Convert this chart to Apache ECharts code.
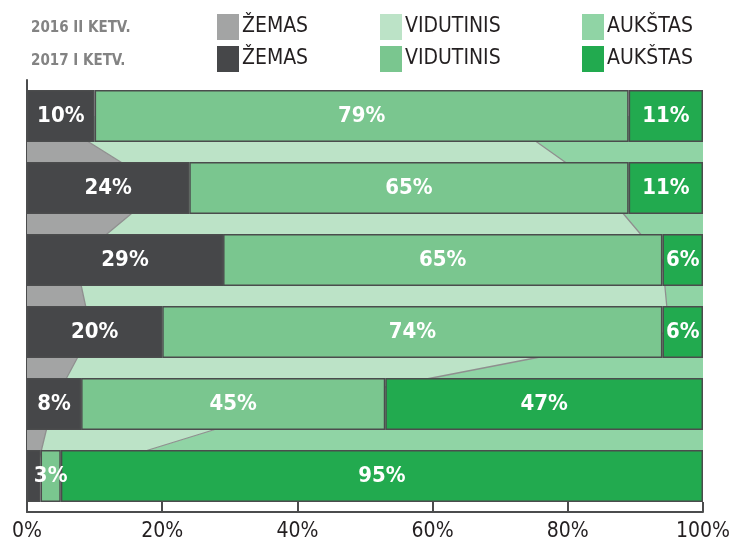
<!DOCTYPE html>
<html>
<head>
<meta charset="utf-8">
<script src="https://cdn.jsdelivr.net/npm/echarts@6/dist/echarts.min.js"></script>
<style>
html,body{margin:0;padding:0;background:#fff;}
#chart{width:734px;height:546px;}
</style>
</head>
<body>
<div id="chart"></div>
<script>
// Categories (rows, top to bottom)
var categories = ['1', '2', '3', '4', '5', '6'];

// 2017 I KETV. (bars)
var zemas2017 = [10, 24, 29, 20, 8, 2];
var vidutinis2017 = [79, 65, 65, 74, 45, 3];
var aukstas2017 = [11, 11, 6, 6, 47, 95];

// 2016 II KETV. (bands between bars)
var zemas2016 = [3, 20, 7.2, 9.5, 3.8, 1.2];
var vidutinis2016 = [67, 65, 86.8, 85.5, 36.2, 4.3];
var aukstas2016 = [30, 15, 6, 5, 60, 94.5];

// Axis ticks
var xTicks = [0, 20, 40, 60, 80, 100];

var FONT = '"Liberation Sans Narrow", "DejaVu Sans Condensed", "Roboto", sans-serif';

var col2017 = ['#464749', '#7ac68f', '#22aa4f'];
var col2016 = ['#a3a4a4', '#bce3c7', '#90d4a5'];
var names = ['ŽEMAS', 'VIDUTINIS', 'AUKŠTAS'];

function barData(arr) {
  return arr.map(function (v) {
    return v < 3 ? { value: v, label: { show: false } } : v;
  });
}

var series = [];
[zemas2016, vidutinis2016, aukstas2016].forEach(function (arr, i) {
  series.push({
    name: '2016 ' + names[i],
    type: 'line',
    stack: 's2016',
    data: arr,
    symbol: 'none',
    z: 1,
    lineStyle: { color: '#8f8f8f', width: i === 2 ? 0 : 1.3 },
    itemStyle: { color: col2016[i] },
    areaStyle: { color: col2016[i], opacity: 1 },
    emphasis: { disabled: true },
    silent: true
  });
});
[zemas2017, vidutinis2017, aukstas2017].forEach(function (arr, i) {
  series.push({
    name: '2017 ' + names[i],
    type: 'bar',
    stack: 's2017',
    data: barData(arr),
    barWidth: 52,
    z: 3,
    itemStyle: { color: col2017[i], borderColor: '#4b4c4d', borderWidth: 1.5 },
    label: {
      show: true,
      position: 'inside',
      formatter: '{c}%',
      color: '#ffffff',
      fontFamily: FONT,
      fontWeight: 'bold',
      fontSize: 22
    },
    emphasis: { disabled: true }
  });
});

var legendPos = [217, 380, 582];
var legends = [];
names.forEach(function (n, i) {
  ['2016', '2017'].forEach(function (y, r) {
    legends.push({
      data: [y + ' ' + n],
      left: legendPos[i],
      top: r === 0 ? 14 : 46,
      itemWidth: 22,
      itemHeight: 26,
      itemGap: 6,
      icon: 'rect',
      selectedMode: false,
      padding: 0,
      itemStyle: { borderWidth: 0 },
      formatter: function (name) { return name.split(' ')[1]; },
      textStyle: { fontFamily: FONT, fontSize: 21, color: '#231f20', padding: [0, 0, 0, -2] }
    });
  });
});

var chart = echarts.init(document.getElementById('chart'), null, { renderer: 'canvas' });
chart.setOption({
  animation: false,
  backgroundColor: '#ffffff',
  title: [
    { text: '2016 II KETV.', left: 31, top: 21, padding: 0,
      textStyle: { fontFamily: FONT, fontSize: 15, fontWeight: 'bold', color: '#838383' } },
    { text: '2017 I KETV.', left: 31, top: 54, padding: 0,
      textStyle: { fontFamily: FONT, fontSize: 15, fontWeight: 'bold', color: '#838383' } }
  ],
  legend: legends,
  grid: { left: 27, right: 31, top: 80, bottom: 34, containLabel: false },
  xAxis: {
    type: 'value',
    min: xTicks[0],
    max: xTicks[xTicks.length - 1],
    interval: 20,
    axisLine: { show: true, lineStyle: { color: '#4b4c4d', width: 2 } },
    axisTick: { show: true, inside: true, length: 10, lineStyle: { color: '#4b4c4d', width: 2 } },
    splitLine: { show: false },
    axisLabel: {
      formatter: '{value}%',
      fontFamily: FONT,
      fontSize: 21,
      color: '#231f20',
      margin: 9
    }
  },
  yAxis: {
    type: 'category',
    data: categories,
    inverse: true,
    axisLine: { show: true, lineStyle: { color: '#4b4c4d', width: 2 } },
    axisTick: { show: false },
    axisLabel: { show: false }
  },
  series: series
});
</script>
</body>
</html>
